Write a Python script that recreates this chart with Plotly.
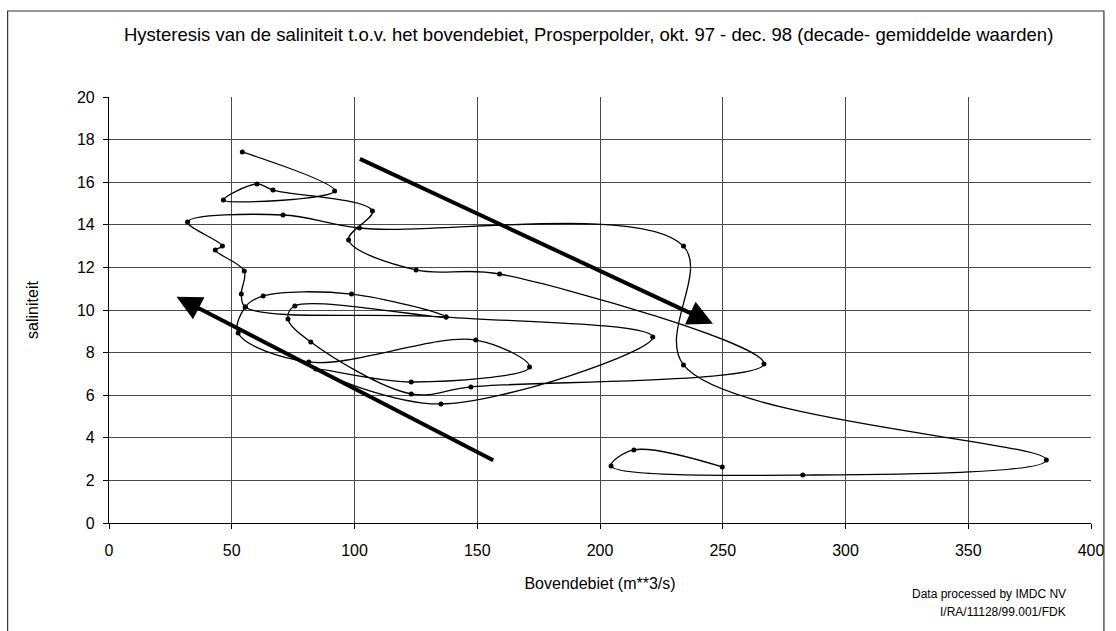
import plotly.graph_objects as go

# Decade-averaged values, okt. 97 - dec. 98, in time order
debiet = [54.3, 91.9, 46.6, 60.3, 66.8, 107.3, 97.6, 125.1, 159.1,
          266.8, 147.4, 123.1, 82.2, 72.9, 75.7, 137.3, 98.8, 62.8, 55.5,
          52.6, 81.4, 149.4, 171.3, 123.1, 84.2, 135.2, 221.5, 137.3, 55.5,
          53.9, 55.1, 43.3, 46.2, 32.0, 70.9, 102.0, 234.0, 234.0, 381.8, 282.6,
          204.5, 213.8, 249.8]
saliniteit = [17.42, 15.59, 15.16, 15.92, 15.63, 14.65, 13.29, 11.88, 11.69,
              7.47, 6.39, 6.06, 8.50, 9.58, 10.19, 9.67, 10.75, 10.66, 10.14,
              8.92, 7.56, 8.59, 7.32, 6.62, 7.23, 5.59, 8.73, 9.67, 10.14,
              10.75, 11.83, 12.82, 13.00, 14.13, 14.46, 13.85, 13.00, 7.42, 2.96, 2.25,
              2.68, 3.43, 2.63]

x_ticks = [0, 50, 100, 150, 200, 250, 300, 350, 400]
y_ticks = [0, 2, 4, 6, 8, 10, 12, 14, 16, 18, 20]

# Trend arrows: (tail x, tail y, head x, head y)
trend_arrows = [
    (101.6, 17.13, 246.0, 9.36),
    (157.1, 2.91, 27.5, 10.62),
]

title_text = ("Hysteresis van de saliniteit t.o.v. het bovendebiet, Prosperpolder, "
              "okt. 97 - dec. 98 (decade- gemiddelde waarden)")

FONT = "Liberation Sans, Arial, sans-serif"

# plot area in pixels (for placing paper-referenced texts)
PL, PR, PT, PB = 109, 1097, 97, 523


def px(xp):
    return (xp - PL) / (PR - PL)


def py(yp):
    return (PB - yp) / (PB - PT)


fig = go.Figure()
fig.add_trace(go.Scatter(
    x=debiet, y=saliniteit,
    mode="lines+markers",
    line=dict(color="black", width=1.3, shape="spline", smoothing=1.0),
    marker=dict(color="black", size=5),
    showlegend=False,
    hoverinfo="skip",
))

for (x0, y0, x1, y1) in trend_arrows:
    fig.add_annotation(
        x=x1, y=y1, ax=x0, ay=y0,
        xref="x", yref="y", axref="x", ayref="y",
        showarrow=True, arrowhead=2, arrowsize=1.25, arrowwidth=4,
        arrowcolor="black", text="",
    )

fig.add_annotation(text=title_text, x=px(591), y=py(35), xref="paper", yref="paper",
                   xanchor="center", yanchor="middle", showarrow=False,
                   font=dict(family=FONT, size=18.5, color="black"))
fig.add_annotation(text="Data processed by IMDC NV", x=px(1074), y=py(594),
                   xref="paper", yref="paper", showarrow=False,
                   xanchor="right", yanchor="middle",
                   font=dict(family=FONT, size=12, color="black"))
fig.add_annotation(text="I/RA/11128/99.001/FDK", x=px(1074), y=py(612),
                   xref="paper", yref="paper", showarrow=False,
                   xanchor="right", yanchor="middle",
                   font=dict(family=FONT, size=12, color="black"))

# Outer chart frame
fig.add_shape(type="rect", xref="paper", yref="paper",
              x0=px(7), x1=px(1110), y0=py(640), y1=py(11),
              line=dict(color="#333", width=1.2))

axis_common = dict(
    showgrid=True, gridcolor="#4a4a4a", gridwidth=1,
    showline=True, linecolor="black", linewidth=1.2, mirror=False,
    ticks="outside", ticklen=5, tickcolor="black",
    tickfont=dict(family=FONT, size=16, color="black"),
    zeroline=False,
)

fig.update_xaxes(range=[0, 400], tickvals=x_ticks, ticklabelstandoff=8, **axis_common,
                 title=dict(text="Bovendebiet (m**3/s)", standoff=19,
                            font=dict(family=FONT, size=16, color="black")))
fig.update_yaxes(range=[0, 20], tickvals=y_ticks, ticklabelstandoff=5, **axis_common,
                 title=dict(text="saliniteit", standoff=34,
                            font=dict(family=FONT, size=16, color="black")))

fig.update_layout(
    width=1116, height=631,
    margin=dict(l=PL, r=1116 - PR, t=PT, b=631 - PB),
    paper_bgcolor="white", plot_bgcolor="white",
    font=dict(family=FONT, color="black"),
)

fig.write_html("out.html")
